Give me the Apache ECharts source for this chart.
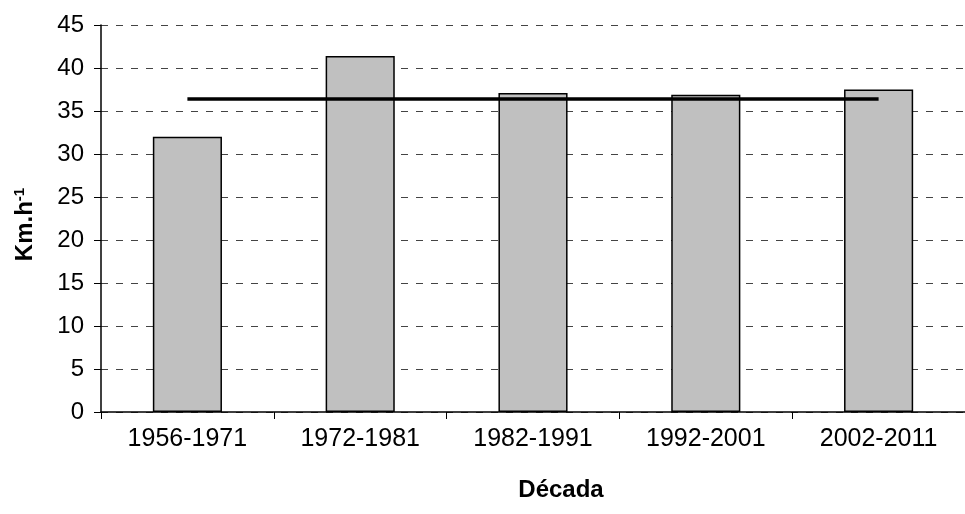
<!DOCTYPE html>
<html>
<head>
<meta charset="utf-8">
<script src="https://cdn.jsdelivr.net/npm/echarts@6/dist/echarts.min.js"></script>
<style>
  html, body { margin: 0; padding: 0; background: #fff; }
  #chart { width: 965px; height: 514px; }
</style>
</head>
<body>
<div id="chart"></div>
<script>
// dados
var decadas = ['1956-1971', '1972-1981', '1982-1991', '1992-2001', '2002-2011'];
var velocidade = [32.0, 41.4, 37.1, 36.9, 37.5];
var media = [36.4, 36.4, 36.4, 36.4, 36.4];

var fonte = 'Liberation Sans, Arial, sans-serif';

var myChart = echarts.init(document.getElementById('chart'));

myChart.setOption({
  animation: false,
  grid: {
    left: 101,
    top: 25,
    right: -11,
    bottom: 102,
    containLabel: false
  },
  xAxis: {
    type: 'category',
    data: decadas,
    name: 'Década',
    nameLocation: 'middle',
    nameGap: 66,
    nameTextStyle: {
      fontFamily: fonte,
      fontSize: 24,
      fontWeight: 'bold',
      color: '#000',
      padding: [0, 0, 0, 56]
    },
    axisLine: { lineStyle: { color: '#000', width: 1.5 } },
    axisTick: { show: true, length: 7, lineStyle: { color: '#000' } },
    axisLabel: {
      fontFamily: fonte,
      fontSize: 25,
      color: '#000',
      margin: 15
    }
  },
  yAxis: {
    type: 'value',
    min: 0,
    max: 45,
    interval: 5,
    name: '{a|Km.h}{b|-1}',
    nameLocation: 'middle',
    nameGap: 62,
    nameTextStyle: {
      padding: [0, 12, 0, 0],
      rich: {
        a: { fontFamily: fonte, fontSize: 24, fontWeight: 'bold', color: '#000' },
        b: { fontFamily: fonte, fontSize: 15, fontWeight: 'bold', color: '#000', padding: [0, 0, 12, 0] }
      }
    },
    axisLine: { show: true, lineStyle: { color: '#000', width: 1.5 } },
    axisTick: { show: true, length: 7, lineStyle: { color: '#000' } },
    axisLabel: {
      fontFamily: fonte,
      fontSize: 24,
      color: '#000',
      margin: 17
    },
    splitLine: {
      show: true,
      lineStyle: { color: '#444', width: 1, type: [7, 8] }
    }
  },
  series: [
    {
      name: 'Velocidade',
      type: 'bar',
      data: velocidade,
      barWidth: '40%',
      itemStyle: {
        color: '#c0c0c0',
        borderColor: '#000',
        borderWidth: 1.5
      },
      z: 2
    },
    {
      name: 'Média',
      type: 'line',
      data: media,
      showSymbol: false,
      symbol: 'none',
      lineStyle: { color: '#000', width: 3.5 },
      z: 3
    }
  ]
});
</script>
</body>
</html>
